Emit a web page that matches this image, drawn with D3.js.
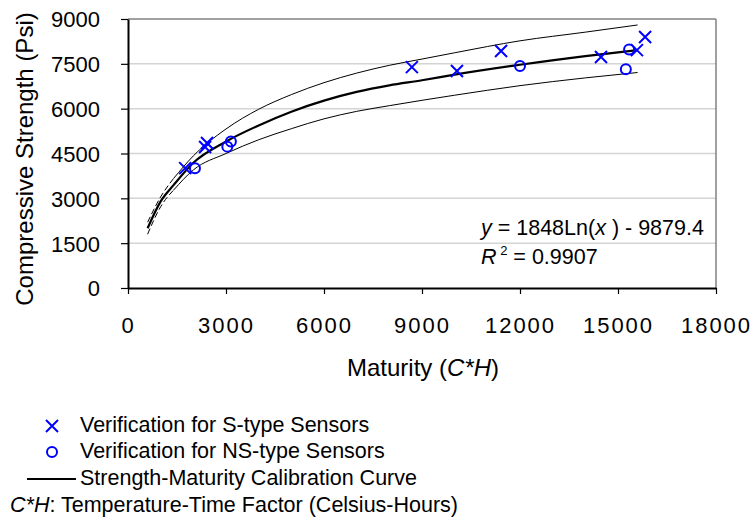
<!DOCTYPE html>
<html>
<head>
<meta charset="utf-8">
<script src="https://d3js.org/d3.v7.min.js"></script>
<style>
  body { margin: 0; background: #fff; }
  text { font-family: "Liberation Sans", Arial, sans-serif; fill: #000; }
</style>
</head>
<body>
<div id="chart"></div>
<script>
// valores
const xTicks = [0, 3000, 6000, 9000, 12000, 15000, 18000];
const yTicks = [0, 1500, 3000, 4500, 6000, 7500, 9000];

const curveX     = [600, 1000, 1400, 2000, 3000, 4000, 5000, 6000, 7000, 8000, 9000, 10000, 12000, 14000, 15600];
const curveMain  = [2000, 2900, 3450, 4190, 4900, 5440, 5900, 6270, 6560, 6780, 6950, 7140, 7470, 7760, 7960];
const curveUpper = [2200, 3050, 3670, 4420, 5320, 5980, 6470, 6870, 7190, 7450, 7660, 7870, 8270, 8560, 8800];
const curveLower = [1800, 2720, 3280, 3950, 4500, 4960, 5330, 5660, 5910, 6100, 6280, 6450, 6770, 7030, 7210];
const dashEnd = 1400; // las bandas son discontinuas antes de este valor

const sX = [1750, 2360, 2420, 8690, 10070, 11420, 14480, 15580, 15830];
const sY = [4010, 4720, 4850, 7390, 7260, 7930, 7730, 7960, 8400];
const nsX = [2050, 3040, 3150, 12000, 15240, 15340];
const nsY = [4010, 4730, 4900, 7430, 7320, 7980];

const W = 755, H = 522;
const M = { left: 128, top: 19 };
const PW = 588, PH = 269;
const BLUE = "#0000ff";
const FONT = "Liberation Sans, Arial, sans-serif";

const svg = d3.select("#chart").append("svg")
  .attr("width", W).attr("height", H);

const g = svg.append("g").attr("transform", `translate(${M.left},${M.top})`);

const x = d3.scaleLinear().domain([0, 18000]).range([0, PW]);
const y = d3.scaleLinear().domain([0, 9000]).range([PH, 0]);

// rejilla
g.selectAll(".grid").data(yTicks.filter(d => d > 0 && d < 9000)).enter()
  .append("line")
  .attr("x1", 0).attr("x2", PW)
  .attr("y1", d => y(d)).attr("y2", d => y(d))
  .attr("stroke", "#d4d4d4").attr("stroke-width", 1.5);

// marco superior y derecho
g.append("line").attr("x1", 0).attr("x2", PW).attr("y1", 0).attr("y2", 0)
  .attr("stroke", "#808080").attr("stroke-width", 1.5);
g.append("line").attr("x1", PW).attr("x2", PW).attr("y1", 0).attr("y2", PH)
  .attr("stroke", "#808080").attr("stroke-width", 1.5);

// ejes
const xAxis = g.append("g").attr("transform", `translate(0,${PH})`)
  .call(d3.axisBottom(x).tickValues(xTicks).tickFormat(d3.format("d"))
    .tickSize(6).tickPadding(23).tickSizeOuter(0));
const yAxis = g.append("g")
  .call(d3.axisLeft(y).tickValues(yTicks).tickFormat(d3.format("d"))
    .tickSize(7).tickPadding(21).tickSizeOuter(0));

[xAxis, yAxis].forEach(a => {
  a.select(".domain").attr("stroke", "#000").attr("stroke-width", 2);
  a.selectAll(".tick line").attr("stroke", "#000").attr("stroke-width", 1.2);
  a.selectAll("text").attr("font-size", 22).attr("fill", "#000")
    .attr("font-family", FONT);
});
xAxis.selectAll("text").attr("letter-spacing", 2);
yAxis.selectAll("text").attr("dy", "0.36em");

// curvas
const line = d3.line().x(d => x(d[0])).y(d => y(d[1])).curve(d3.curveMonotoneX);
const pts = vals => curveX.map((v, i) => [v, vals[i]]);

[curveUpper, curveLower].forEach(vals => {
  const all = pts(vals);
  const solid = all.filter(d => d[0] >= dashEnd);
  const dashed = all.filter(d => d[0] <= dashEnd);
  g.append("path").datum(dashed).attr("d", line)
    .attr("fill", "none").attr("stroke", "#000").attr("stroke-width", 1)
    .attr("stroke-dasharray", "6,3");
  g.append("path").datum(solid).attr("d", line)
    .attr("fill", "none").attr("stroke", "#000").attr("stroke-width", 1);
});
g.append("path").datum(pts(curveMain)).attr("d", line)
  .attr("fill", "none").attr("stroke", "#000").attr("stroke-width", 2.2);

// marcadores
const cross = "M-6,-6L6,6M-6,6L6,-6";
g.selectAll(".s").data(sX.map((v, i) => [v, sY[i]])).enter()
  .append("path")
  .attr("d", cross)
  .attr("transform", d => `translate(${x(d[0])},${y(d[1])})`)
  .attr("fill", "none").attr("stroke", BLUE).attr("stroke-width", 2);

g.selectAll(".ns").data(nsX.map((v, i) => [v, nsY[i]])).enter()
  .append("circle")
  .attr("cx", d => x(d[0])).attr("cy", d => y(d[1])).attr("r", 5)
  .attr("fill", "none").attr("stroke", BLUE).attr("stroke-width", 2);

// ecuación
const eq = g.append("text").attr("x", 353).attr("y", 216).attr("font-size", 21.5);
eq.append("tspan").attr("font-style", "italic").text("y");
eq.append("tspan").text(" = 1848Ln(");
eq.append("tspan").attr("font-style", "italic").text("x");
eq.append("tspan").text(" ) - 9879.4");

const r2 = g.append("text").attr("x", 353).attr("y", 245).attr("font-size", 21.5);
r2.append("tspan").attr("font-style", "italic").text("R");
r2.append("tspan").attr("font-size", 13).attr("dy", -9).text(" 2");
r2.append("tspan").attr("dy", 9).text(" = 0.9907");

// títulos
svg.append("text")
  .attr("transform", `translate(33,159) rotate(-90)`)
  .attr("text-anchor", "middle").attr("font-size", 24)
  .text("Compressive Strength (Psi)");

const xt = svg.append("text").attr("x", 423).attr("y", 376)
  .attr("text-anchor", "middle").attr("font-size", 24);
xt.append("tspan").text("Maturity (");
xt.append("tspan").attr("font-style", "italic").text("C*H");
xt.append("tspan").text(")");

// leyenda
const lg = svg.append("g");
lg.append("path").attr("d", cross)
  .attr("transform", "translate(52,426)")
  .attr("fill", "none").attr("stroke", BLUE).attr("stroke-width", 2);
lg.append("text").attr("x", 80).attr("y", 432).attr("font-size", 21.5)
  .text("Verification for S-type Sensors");

lg.append("circle").attr("cx", 52).attr("cy", 452).attr("r", 5)
  .attr("fill", "none").attr("stroke", BLUE).attr("stroke-width", 2);
lg.append("text").attr("x", 80).attr("y", 458).attr("font-size", 21.5)
  .text("Verification for NS-type Sensors");

lg.append("line").attr("x1", 27).attr("x2", 76).attr("y1", 479).attr("y2", 479)
  .attr("stroke", "#000").attr("stroke-width", 2);
lg.append("text").attr("x", 80).attr("y", 485).attr("font-size", 21.5)
  .text("Strength-Maturity Calibration Curve");

const fn = lg.append("text").attr("x", 10).attr("y", 512).attr("font-size", 21.5);
fn.append("tspan").attr("font-style", "italic").text("C*H");
fn.append("tspan").text(": Temperature-Time Factor (Celsius-Hours)");
</script>
</body>
</html>
